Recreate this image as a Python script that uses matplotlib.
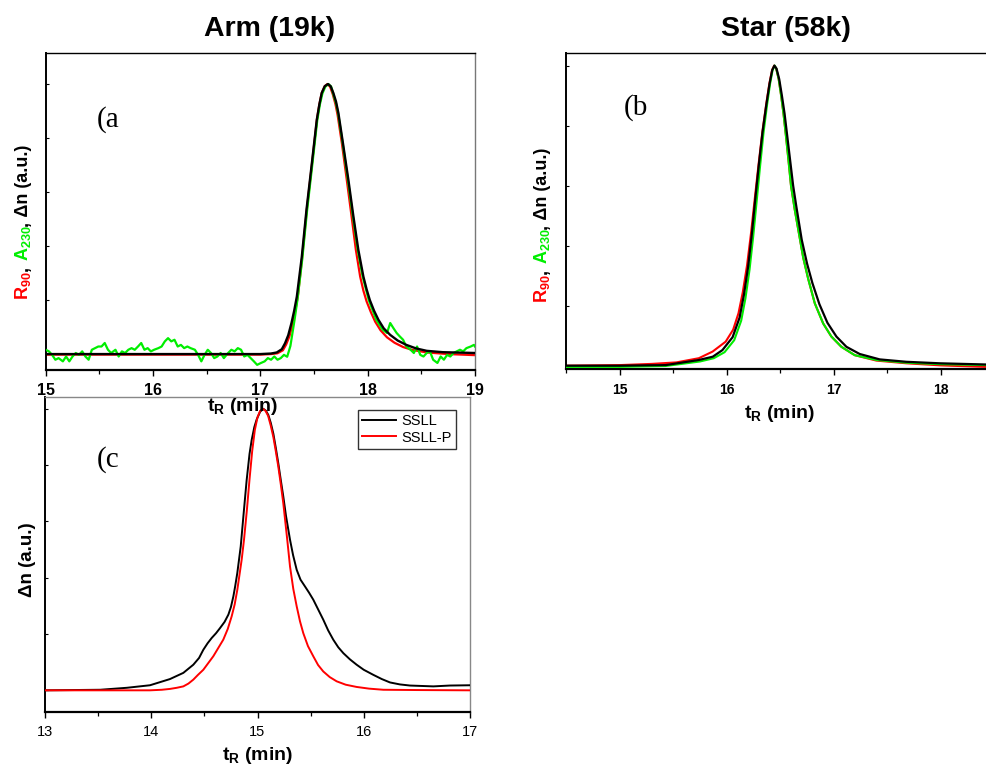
import matplotlib
matplotlib.use("Agg")
import matplotlib.pyplot as plt
from matplotlib.ticker import MultipleLocator, FormatStrFormatter

plt.rcParams['font.family'] = ['Liberation Sans', 'DejaVu Sans']
plt.rcParams['mathtext.fontset'] = 'custom'
plt.rcParams['mathtext.rm'] = 'Liberation Sans'
plt.rcParams['mathtext.bf'] = 'Liberation Sans:bold'
plt.rcParams['mathtext.it'] = 'Liberation Sans:italic'

# ---------------- data: panel (a) Arm (19k) ----------------
a_black_x = [15.0, 16.0, 17.0, 17.1, 17.153, 17.2, 17.23, 17.26, 17.29, 17.315, 17.34, 17.386, 17.43,
             17.48, 17.526, 17.55, 17.572, 17.60, 17.63, 17.655, 17.68, 17.705, 17.727, 17.77, 17.82,
             17.867, 17.913, 17.96, 17.99, 18.02, 18.06, 18.10, 18.15, 18.21, 18.28, 18.36, 18.45,
             18.55, 18.7, 19.0]
a_black_y = [0.0, 0.0, 0.0, 0.002, 0.006, 0.018, 0.04, 0.07, 0.115, 0.16, 0.213, 0.36, 0.535,
             0.707, 0.868, 0.925, 0.967, 0.992, 1.0, 0.992, 0.967, 0.935, 0.893, 0.78, 0.646,
             0.51, 0.386, 0.287, 0.24, 0.2, 0.16, 0.127, 0.095, 0.071, 0.05, 0.034, 0.021,
             0.012, 0.007, 0.004]

a_red_x = [15.0, 16.0, 17.0, 17.1, 17.16, 17.21, 17.24, 17.27, 17.30, 17.325, 17.35, 17.39, 17.433,
           17.482, 17.527, 17.55, 17.572, 17.60, 17.625, 17.65, 17.675, 17.70, 17.72, 17.76, 17.805,
           17.85, 17.89, 17.93, 17.96, 17.99, 18.03, 18.07, 18.12, 18.18, 18.25, 18.33, 18.42,
           18.55, 18.75, 19.0]
a_red_y = [-0.002, -0.002, -0.002, 0.0, 0.003, 0.014, 0.035, 0.065, 0.11, 0.16, 0.215, 0.36, 0.535,
           0.707, 0.868, 0.925, 0.967, 0.992, 1.0, 0.99, 0.962, 0.925, 0.885, 0.78, 0.646,
           0.51, 0.386, 0.287, 0.235, 0.195, 0.155, 0.12, 0.088, 0.062, 0.042, 0.026, 0.015,
           0.006, 0.0, -0.004]

a_green_x = [15.00, 15.03, 15.06, 15.09, 15.12, 15.16, 15.19, 15.22, 15.25, 15.28, 15.31, 15.34, 15.37,
             15.40, 15.43, 15.46, 15.49, 15.52, 15.55, 15.58, 15.61, 15.65, 15.68, 15.71, 15.74, 15.77,
             15.80, 15.83, 15.86, 15.89, 15.92, 15.95, 15.98, 16.01, 16.05, 16.08, 16.11, 16.14, 16.17,
             16.20, 16.23, 16.26, 16.29, 16.32, 16.35, 16.39, 16.42, 16.45, 16.48, 16.51, 16.54, 16.57,
             16.60, 16.63, 16.66, 16.70, 16.73, 16.76, 16.79, 16.82, 16.85, 16.88, 16.91, 16.94, 16.97,
             17.00, 17.04, 17.07, 17.10, 17.13, 17.16, 17.19, 17.22,
             17.25, 17.28, 17.30, 17.32, 17.345, 17.39, 17.435, 17.485, 17.53, 17.555, 17.578, 17.605,
             17.635, 17.66, 17.68, 17.705, 17.725, 17.767, 17.815, 17.862, 17.907, 17.953, 18.01, 18.08,
             18.14,
             18.18, 18.21, 18.24, 18.27, 18.30, 18.33, 18.36, 18.40, 18.43, 18.46, 18.49, 18.52, 18.55,
             18.58, 18.61, 18.65, 18.68, 18.71, 18.74, 18.77, 18.80, 18.83, 18.86, 18.89, 18.92, 18.96,
             18.99, 19.0]
a_green_y = [0.016, 0.010, -0.003, -0.021, -0.015, -0.027, -0.009, -0.027, -0.009, 0.004,
             -0.003, 0.010, -0.009, -0.021, 0.016, 0.022, 0.028, 0.028, 0.041, 0.016,
             0.004, 0.016, -0.009, 0.010, 0.004, 0.016, 0.022, 0.016, 0.028, 0.041,
             0.016, 0.022, 0.010, 0.016, 0.022, 0.028, 0.047, 0.059, 0.047, 0.053,
             0.028, 0.034, 0.022, 0.028, 0.022, 0.016, -0.003, -0.027, -0.003, 0.016,
             0.004, -0.015, -0.009, 0.004, -0.015, 0.004, 0.016, 0.010, 0.022, 0.016,
             -0.009, -0.003, -0.015, -0.027, -0.040, -0.034, -0.027, -0.015, -0.021, -0.009,
             -0.021, -0.015, -0.003,
             -0.010, 0.03, 0.08, 0.13, 0.2, 0.35, 0.53, 0.705, 0.865, 0.925, 0.965, 0.99,
             1.0, 0.99, 0.962, 0.928, 0.89, 0.78, 0.646, 0.51, 0.386, 0.287, 0.2, 0.127,
             0.09,
             0.078, 0.115, 0.096, 0.078, 0.065, 0.053, 0.028, 0.016, 0.004, 0.028, -0.003, -0.009, 0.004,
             0.010, -0.021, -0.033, -0.009, -0.021, -0.003, -0.009, 0.004, 0.010, 0.016, 0.010, 0.022, 0.028,
             0.034, 0.028]

# ---------------- data: panel (b) Star (58k) ----------------
b_black_x = [14.5, 15.0, 15.43, 15.74, 15.87, 15.96, 16.055, 16.12, 16.16, 16.2, 16.235, 16.268, 16.30,
             16.335, 16.37, 16.40, 16.425, 16.445, 16.465, 16.49, 16.515, 16.54, 16.565, 16.59, 16.62,
             16.65, 16.70, 16.75, 16.80, 16.865, 16.94, 17.024, 17.117, 17.241, 17.428, 17.677, 17.988,
             18.42]
b_black_y = [0.0, 0.0, 0.002, 0.019, 0.030, 0.052, 0.095, 0.16, 0.235, 0.33, 0.44, 0.56, 0.67,
             0.78, 0.87, 0.94, 0.985, 1.0, 0.99, 0.955, 0.9, 0.84, 0.765, 0.69, 0.60,
             0.53, 0.42, 0.34, 0.275, 0.205, 0.143, 0.097, 0.063, 0.039, 0.021, 0.013, 0.008,
             0.004]

b_red_x = [14.5, 15.0, 15.3, 15.53, 15.74, 15.868, 15.99, 16.06, 16.11, 16.15, 16.19, 16.228, 16.263,
           16.297, 16.333, 16.368, 16.398, 16.423, 16.443, 16.462, 16.485, 16.508, 16.53, 16.553,
           16.575, 16.60, 16.635, 16.674, 16.714, 16.76, 16.822, 16.90, 16.977, 17.07, 17.195, 17.397,
           17.677, 18.0, 18.42]
b_red_y = [0.0, 0.002, 0.006, 0.011, 0.025, 0.047, 0.08, 0.12, 0.175, 0.245, 0.335, 0.445, 0.56,
           0.67, 0.78, 0.87, 0.94, 0.985, 1.0, 0.99, 0.955, 0.9, 0.84, 0.765,
           0.69, 0.60, 0.52, 0.441, 0.36, 0.29, 0.208, 0.141, 0.097, 0.063, 0.035, 0.017,
           0.008, 0.001, -0.004]

b_green_x = [14.5, 15.0, 15.43, 15.75, 15.88, 15.98, 16.07, 16.135, 16.175, 16.213, 16.247, 16.28,
             16.31, 16.343, 16.376, 16.405, 16.428, 16.447, 16.462, 16.485, 16.508, 16.53, 16.553,
             16.575, 16.60, 16.635, 16.674, 16.714, 16.76, 16.822, 16.90, 16.977, 17.07, 17.195,
             17.397, 17.677, 18.0, 18.42]
b_green_y = [-0.004, -0.004, -0.001, 0.014, 0.025, 0.045, 0.085, 0.15, 0.225, 0.32, 0.43, 0.55,
             0.66, 0.775, 0.868, 0.94, 0.985, 1.0, 0.99, 0.955, 0.9, 0.84, 0.765,
             0.69, 0.60, 0.52, 0.441, 0.36, 0.29, 0.208, 0.141, 0.097, 0.063, 0.035,
             0.019, 0.01, 0.005, 0.002]

# ---------------- data: panel (c) ----------------
c_ssll_x = [13.0, 13.52, 13.77, 13.988, 14.176, 14.302, 14.396, 14.45, 14.49, 14.53, 14.569, 14.61,
            14.647, 14.69, 14.726, 14.75, 14.773, 14.79, 14.81, 14.842, 14.87, 14.898, 14.925, 14.945,
            14.97, 14.992, 15.025, 15.055, 15.08, 15.102, 15.125, 15.149, 15.172, 15.196, 15.22,
            15.243, 15.268, 15.306, 15.335, 15.369, 15.405, 15.447, 15.485, 15.525, 15.57, 15.619,
            15.665, 15.713, 15.76, 15.808, 15.87, 15.933, 16.0, 16.09, 16.17, 16.247, 16.34, 16.435,
            16.655, 16.81, 17.0]
c_ssll_y = [0.0, 0.002, 0.009, 0.018, 0.04, 0.062, 0.091, 0.115, 0.144, 0.167, 0.186, 0.203,
            0.221, 0.243, 0.269, 0.296, 0.334, 0.37, 0.417, 0.511, 0.63, 0.747, 0.84, 0.889,
            0.935, 0.962, 0.99, 1.0, 0.993, 0.978, 0.95, 0.912, 0.862, 0.806, 0.745,
            0.688, 0.62, 0.535, 0.48, 0.428, 0.393, 0.369, 0.347, 0.322, 0.288, 0.251,
            0.213, 0.18, 0.153, 0.132, 0.11, 0.091, 0.073, 0.055, 0.04, 0.028, 0.021, 0.017,
            0.014, 0.017, 0.018]

c_sslp_x = [13.0, 13.83, 13.988, 14.1, 14.176, 14.24, 14.302, 14.35, 14.396, 14.44, 14.49, 14.584,
            14.678, 14.72, 14.757, 14.785, 14.81, 14.851, 14.873, 14.9, 14.925, 14.95, 14.975, 15.0,
            15.025, 15.05, 15.075, 15.1, 15.125, 15.149, 15.172, 15.196, 15.22, 15.243, 15.28, 15.306,
            15.337, 15.369, 15.40, 15.431, 15.475, 15.525, 15.57, 15.619, 15.68, 15.745, 15.83,
            15.933, 16.05, 16.184, 16.5, 17.0]
c_sslp_y = [0.0, 0.0, 0.0, 0.002, 0.005, 0.009, 0.014, 0.024, 0.038, 0.055, 0.073, 0.121,
            0.18, 0.218, 0.263, 0.305, 0.357, 0.464, 0.535, 0.64, 0.75, 0.85, 0.925, 0.97,
            0.993, 1.0, 0.993, 0.975, 0.94, 0.9, 0.85, 0.794, 0.73, 0.664, 0.535, 0.44,
            0.36, 0.298, 0.245, 0.203, 0.157, 0.121, 0.09, 0.067, 0.047, 0.032, 0.02,
            0.012, 0.006, 0.002, 0.001, 0.0]

legend_labels = ["SSLL", "SSLL-P"]
titles = ["Arm (19k)", "Star (58k)"]

# ---------------- figure ----------------
W, H = 986, 769
fig = plt.figure(figsize=(W / 100, H / 100), dpi=100)
fig.patch.set_facecolor('white')


def rect(l, t, r, b):
    return [l / W, 1 - b / H, (r - l) / W, (b - t) / H]


def fx(x):
    return x / W


def fy(y):
    return 1 - y / H


axA = fig.add_axes(rect(45.7, 53, 475, 370))
axB = fig.add_axes(rect(566, 53, 986, 369))
axC = fig.add_axes(rect(45, 397, 470, 712))

RED = '#ff0000'
GREEN = '#00ee00'

axA.plot(a_red_x, a_red_y, color=RED, lw=1.6, zorder=2)
axA.plot(a_green_x, a_green_y, color=GREEN, lw=1.6, zorder=3)
axA.plot(a_black_x, a_black_y, color='black', lw=1.7, zorder=4)
axA.set_xlim(15, 19)
axA.set_ylim(-0.059, 1.115)

axB.plot(b_red_x, b_red_y, color=RED, lw=1.5, zorder=2)
axB.plot(b_green_x, b_green_y, color=GREEN, lw=1.5, zorder=3)
axB.plot(b_black_x, b_black_y, color='black', lw=1.6, zorder=4)
axB.set_xlim(14.5, 18.42)
axB.set_ylim(-0.011, 1.042)

axC.plot(c_ssll_x, c_ssll_y, color='black', lw=1.4, label=legend_labels[0], zorder=3)
axC.plot(c_sslp_x, c_sslp_y, color=RED, lw=1.4, label=legend_labels[1], zorder=4)
axC.set_xlim(13, 17)
axC.set_ylim(-0.077, 1.042)

for ax, bold, fs, pad in [(axA, True, 11.5, 5), (axB, True, 10, 6), (axC, False, 10.5, 5)]:
    ax.xaxis.set_major_locator(MultipleLocator(1))
    ax.xaxis.set_minor_locator(MultipleLocator(0.5))
    ax.xaxis.set_major_formatter(FormatStrFormatter('%d'))
    ax.yaxis.set_major_locator(MultipleLocator(0.2))
    ax.yaxis.set_minor_locator(MultipleLocator(0.2))
    ax.set_yticklabels([])
    ax.tick_params(axis='x', which='major', direction='out', length=4, width=1.0, pad=pad,
                   labelsize=fs)
    ax.tick_params(axis='x', which='minor', direction='out', length=3, width=0.9)
    ax.tick_params(axis='y', which='both', direction='in', length=2.5, width=0.8, labelleft=False)
    for lab in ax.get_xticklabels():
        lab.set_fontweight('bold' if bold else 'normal')
    ax.spines['left'].set_linewidth(1.4)
    ax.spines['bottom'].set_linewidth(1.6)
    ax.spines['top'].set_linewidth(1.0)
    ax.spines['right'].set_linewidth(1.0)

axA.spines['right'].set_color('#777777')
axB.spines['right'].set_visible(False)
axC.spines['top'].set_color('#888888')
axC.spines['right'].set_color('#888888')

leg = axC.legend(loc='upper left', bbox_to_anchor=(fx(358), fy(410)), bbox_transform=fig.transFigure,
                 borderaxespad=0, frameon=True, fancybox=False, edgecolor='black', fontsize=10.5,
                 handlelength=2.3, handletextpad=0.35, borderpad=0.3, labelspacing=0.15)
leg.get_frame().set_linewidth(1.0)

# titles
fig.text(fx(270), fy(36), titles[0], fontsize=20.5, fontweight='bold', ha='center', va='baseline')
fig.text(fx(786), fy(36), titles[1], fontsize=20.5, fontweight='bold', ha='center', va='baseline')

# x labels
xl = r't$_{\mathbf{R}}$ (min)'
fig.text(fx(243), fy(411), xl, fontsize=14, fontweight='bold', ha='center', va='baseline', zorder=10)
fig.text(fx(780), fy(418), xl, fontsize=14, fontweight='bold', ha='center', va='baseline')
fig.text(fx(258), fy(760), xl, fontsize=14, fontweight='bold', ha='center', va='baseline')

# panel letters
for (px, py, s) in [(97, 127, '(a'), (624, 115, '(b'), (97, 467, '(c')]:
    fig.text(fx(px), fy(py), s, fontsize=21, family='Liberation Serif', ha='left', va='baseline')

# multicolour y labels
renderer = fig.canvas.get_renderer()


def color_label(x_px, y_bottom_px, pieces, size):
    y = y_bottom_px
    for s, c in pieces:
        t = fig.text(fx(x_px), fy(y), s, color=c, fontsize=size, fontweight='bold', rotation=90,
                     rotation_mode='anchor', ha='left', va='baseline')
        bb = t.get_window_extent(renderer)
        y -= bb.height


pieces_ab = [(r'R$_{\mathbf{90}}$', RED), (',', 'black'), (r' A$_{\mathbf{230}}$', GREEN),
             (',', 'black'), (' Δn (a.u.)', 'black')]
color_label(28, 300, pieces_ab, 13)
color_label(547, 303, pieces_ab, 13)
color_label(32, 597, [('Δn (a.u.)', 'black')], 13.5)

fig.savefig('out.png', dpi=100, facecolor='white')
